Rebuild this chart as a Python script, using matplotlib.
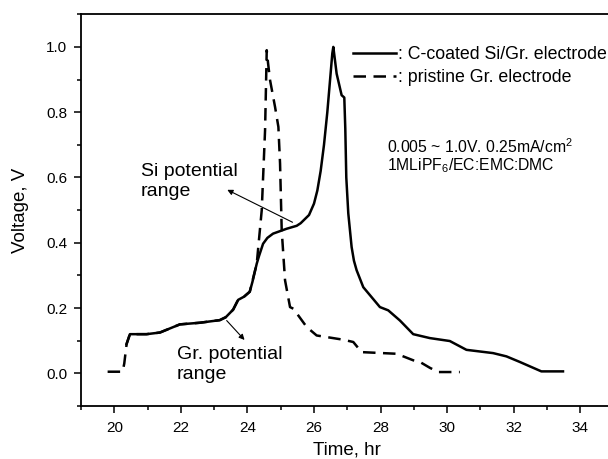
import numpy as np
import matplotlib
matplotlib.use('Agg')
import matplotlib.pyplot as plt
from matplotlib.ticker import MultipleLocator

plt.rcParams['font.family'] = ['Liberation Sans', 'DejaVu Sans']
plt.rcParams['mathtext.fontset'] = 'custom'
plt.rcParams['mathtext.rm'] = 'Liberation Sans'
plt.rcParams['mathtext.it'] = 'Liberation Sans:italic'

# C-coated Si/Gr. electrode (solid)
si_time = [20.37, 20.47, 20.97, 21.37, 21.97, 22.57, 23.17, 23.35, 23.57, 23.72,
           23.90, 24.07, 24.15, 24.28, 24.35, 24.47, 24.60, 24.77, 25.18, 25.48,
           25.60, 25.75, 25.85, 26.00, 26.10, 26.20, 26.30, 26.40, 26.50, 26.55,
           26.58, 26.68, 26.83, 26.91, 26.94, 26.97, 27.03, 27.13, 27.20, 27.28,
           27.48, 27.98, 28.23, 28.58, 28.98, 29.48, 30.08, 30.58, 31.38, 31.78,
           32.18, 32.83, 33.48]
si_volt = [0.09, 0.12, 0.12, 0.125, 0.15, 0.155, 0.163, 0.172, 0.195, 0.225,
           0.235, 0.25, 0.28, 0.336, 0.36, 0.397, 0.415, 0.428, 0.443, 0.452,
           0.46, 0.475, 0.485, 0.52, 0.56, 0.62, 0.70, 0.80, 0.92, 0.98,
           1.0, 0.918, 0.852, 0.845, 0.75, 0.60, 0.49, 0.387, 0.345, 0.316,
           0.264, 0.203, 0.193, 0.162, 0.12, 0.108, 0.099, 0.072, 0.062, 0.052,
           0.035, 0.006, 0.006]

# pristine Gr. electrode (dashed)
gr_time = [19.80, 20.25, 20.30, 20.37, 20.47, 20.97, 21.37, 21.97, 22.57, 23.17,
           23.35, 23.57, 23.72, 23.90, 24.07, 24.28, 24.43, 24.53, 24.58, 24.62,
           24.68, 24.83, 24.93, 24.98, 25.03, 25.13, 25.28, 25.38, 25.78, 26.08,
           26.88, 27.18, 27.43, 28.48, 28.98, 29.18, 29.48, 29.73, 30.38]
gr_volt = [0.005, 0.005, 0.03, 0.09, 0.12, 0.12, 0.125, 0.15, 0.155, 0.163,
           0.172, 0.195, 0.225, 0.235, 0.25, 0.336, 0.50, 0.745, 0.99, 0.95,
           0.898, 0.816, 0.755, 0.643, 0.438, 0.285, 0.203, 0.198, 0.142, 0.116,
           0.103, 0.096, 0.065, 0.06, 0.04, 0.035, 0.017, 0.004, 0.004]

fig = plt.figure(figsize=(6.08, 4.59), dpi=100)
ax = fig.add_axes([0.1332, 0.1155, 0.876, 0.8534])

ax.plot(si_time, si_volt, color='black', lw=1.8, label=': C-coated Si/Gr. electrode')
ax.plot(gr_time, gr_volt, color='black', lw=1.8, dashes=(5, 3), label=': pristine Gr. electrode')

ax.set_xlim(19, 35)
ax.set_ylim(-0.1, 1.1)
ax.xaxis.set_major_locator(MultipleLocator(2))
ax.xaxis.set_minor_locator(MultipleLocator(1))
ax.yaxis.set_major_locator(MultipleLocator(0.2))
ax.yaxis.set_minor_locator(MultipleLocator(0.1))
ax.tick_params(which='major', direction='out', length=5, width=1.1, labelsize=11, pad=6)
ax.tick_params(which='minor', direction='out', length=3, width=1.1)
ax.tick_params(axis='y', which='major', pad=5)
ax.set_yticks([0.0, 0.2, 0.4, 0.6, 0.8, 1.0])
ax.set_yticklabels(['0.0', '0.2', '0.4', '0.6', '0.8', '1.0'])
for s in ax.spines.values():
    s.set_linewidth(1.3)

ax.set_xlabel('Time, hr', fontsize=13.5)
ax.set_ylabel('Voltage, V', fontsize=13.5)
ax.xaxis.set_label_coords(0.5, -0.09)
ax.yaxis.set_label_coords(-0.098, 0.5)

ax.legend(loc='upper left', bbox_to_anchor=(0.511, 0.918), frameon=False, fontsize=12.8,
          borderaxespad=0, borderpad=0, handlelength=2.4, handletextpad=0.1,
          labelspacing=0.3)

ax.text(28.18, 0.696, '0.005 ~ 1.0V. 0.25mA/cm$^2$', fontsize=11.3, va='center')
ax.text(28.18, 0.637, '1MLiPF$_6$/EC:EMC:DMC', fontsize=11.3, va='center')

ax.text(20.8, 0.587, 'Si potential\nrange', fontsize=14, va='center', linespacing=1.2)
ax.annotate('', xy=(23.32, 0.566), xytext=(25.43, 0.459),
            arrowprops=dict(arrowstyle='-|>', lw=0.8, color='black', mutation_scale=8))
ax.text(21.87, 0.027, 'Gr. potential\nrange', fontsize=14, va='center', linespacing=1.3)
ax.annotate('', xy=(23.97, 0.096), xytext=(23.32, 0.168),
            arrowprops=dict(arrowstyle='-|>', lw=0.8, color='black', mutation_scale=8))

plt.savefig('out.png', dpi=100)
